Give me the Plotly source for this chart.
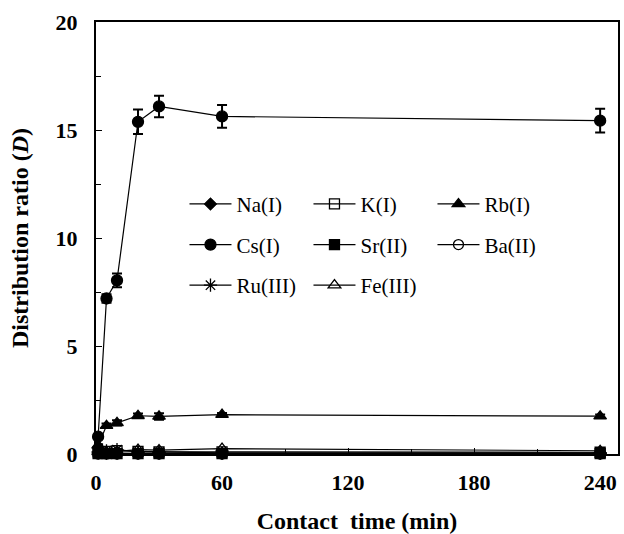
import plotly.graph_objects as go

time_min = [1, 5, 10, 20, 30, 60, 240]
na = [0.05, 0.04, 0.04, 0.03, 0.03, 0.03, 0.03]
k = [0.10, 0.12, 0.15, 0.12, 0.10, 0.10, 0.08]
rb = [0.40, 1.31, 1.44, 1.77, 1.74, 1.82, 1.75]
cs = [0.80, 7.20, 8.04, 15.38, 16.09, 15.63, 15.43]
sr = [0.02, 0.02, 0.02, 0.02, 0.02, 0.02, 0.02]
ba = [0.0, 0.0, 0.0, 0.0, 0.0, 0.0, 0.0]
ru = [0.10, 0.15, 0.20, 0.10, 0.10, 0.05, 0.05]
fe = [0.10, 0.10, 0.12, 0.20, 0.18, 0.25, 0.15]
cs_err = [0.10, 0.20, 0.32, 0.57, 0.50, 0.53, 0.55]
rb_err = [0.05, 0.10, 0.12, 0.10, 0.15, 0.08, 0.08]

x_ticks = [0, 60, 120, 180, 240]
y_ticks = [0, 5, 10, 15, 20]

SERIF = "Times New Roman, Liberation Serif, DejaVu Serif, serif"

series = [
    ("Na(I)", na, "diamond", 9, None, "legend"),
    ("K(I)", k, "square-open", 10, None, "legend"),
    ("Rb(I)", rb, "triangle-up", 11, rb_err, "legend"),
    ("Cs(I)", cs, "circle", 11, cs_err, "legend2"),
    ("Sr(II)", sr, "square", 10, None, "legend2"),
    ("Ba(II)", ba, "circle-open", 10, None, "legend2"),
    ("Ru(III)", ru, "asterisk-open", 11, None, "legend3"),
    ("Fe(III)", fe, "triangle-up-open", 11, None, "legend3"),
]

fig = go.Figure()
for name, vals, sym, size, err, leg in series:
    tr = dict(
        x=time_min, y=vals, name=name, mode="lines+markers",
        line=dict(color="black", width=1.2),
        marker=dict(symbol=sym, size=size, color="black",
                    line=dict(color="black", width=1.3)),
        cliponaxis=False, legend=leg,
    )
    if err is not None:
        tr["error_y"] = dict(type="data", array=err, visible=True,
                             color="black", thickness=2, width=5)
    fig.add_trace(go.Scatter(**tr))

leg_common = dict(
    orientation="h", entrywidth=67, entrywidthmode="pixels",
    xanchor="left", yanchor="middle", x=0.1695, bgcolor="rgba(0,0,0,0)",
    font=dict(family=SERIF, size=21, color="black"), itemwidth=42,
)

fig.update_layout(
    width=624, height=534,
    margin=dict(l=96, r=4, t=22, b=76),
    paper_bgcolor="white", plot_bgcolor="white",
    font=dict(family=SERIF, color="black"),
    showlegend=True,
    legend=dict(**leg_common, y=0.578),
    legend2=dict(**leg_common, y=0.484),
    legend3=dict(**leg_common, y=0.390),
    xaxis=dict(
        range=[0, 248.5], tickvals=x_ticks, ticktext=[str(v) for v in x_ticks],
        minor=dict(dtick=30, ticks="inside", ticklen=5, tickcolor="black", tick0=0),
        ticks="inside", ticklen=6, tickwidth=1.2, tickcolor="black",
        showline=True, linecolor="black", linewidth=2, mirror=True,
        showgrid=False, zeroline=False,
        tickfont=dict(family=SERIF, size=22, color="black", weight="bold"),
        ticklabelstandoff=8,
        title=dict(text="Contact  time (min)", standoff=18,
                   font=dict(family=SERIF, size=24, color="black", weight="bold")),
    ),
    yaxis=dict(
        range=[0, 20], tickvals=y_ticks,
        minor=dict(dtick=2.5, ticks="inside", ticklen=5, tickcolor="black", tick0=0),
        ticks="inside", ticklen=6, tickwidth=1.2, tickcolor="black",
        showline=True, linecolor="black", linewidth=2, mirror=True,
        showgrid=False, zeroline=False,
        tickfont=dict(family=SERIF, size=22, color="black", weight="bold"),
        ticklabelstandoff=12,
        title=dict(text="Distribution ratio (<i>D</i>)", standoff=20,
                   font=dict(family=SERIF, size=24, color="black", weight="bold")),
    ),
)

fig.write_html("out.html")
